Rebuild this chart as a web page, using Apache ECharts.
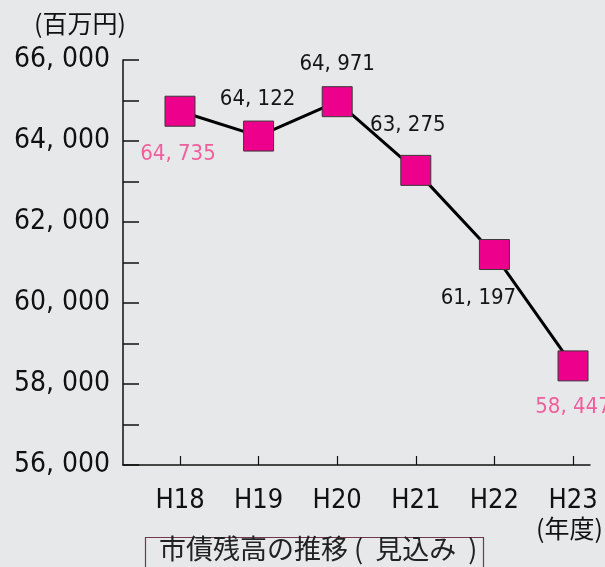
<!DOCTYPE html>
<html><head><meta charset="utf-8">
<script src="https://cdn.jsdelivr.net/npm/echarts@6/dist/echarts.min.js"></script>
<style>html,body{margin:0;padding:0;background:#e7e8ea}#c{width:605px;height:567px}</style>
</head><body><div id="c"></div>
<script>
const categories = ['H18', 'H19', 'H20', 'H21', 'H22', 'H23'];
const values = [64735, 64122, 64971, 63275, 61197, 58447];
const yMin = 56000, yMax = 66000, yStep = 1000, yLabelStep = 2000;
const unitLabel = '(百万円)';
const xUnitLabel = '(年度)';
const titleText = '市債残高の推移 (  見込み  )';

const NUM_FONT = '"DejaVu Sans Condensed","Liberation Sans Narrow",sans-serif';
const CJK_FONT = '"Noto Sans CJK JP","Noto Sans CJK SC",sans-serif';
const fmt = v => { const s = String(v); return s.slice(0, s.length - 3) + ', ' + s.slice(-3); };

// label styling per point (position, distance, offset, colour)
const labelCfg = [
  {position: 'bottom', distance: 17, offset: [-2, 0], color: '#ef5f9d'},
  {position: 'top', distance: 10, offset: [-1, 0], color: '#151515'},
  {position: 'top', distance: 11, offset: [0, 0], color: '#151515'},
  {position: 'top', distance: 19, offset: [-8, 0], color: '#151515'},
  {position: 'bottom', distance: 17, offset: [-16, 0], color: '#151515'},
  {position: 'bottom', distance: 15, offset: [0, 0], color: '#ef5f9d'}
];

const seriesData = values.map((v, i) => ({
  value: [i, v],
  label: {show: true, position: labelCfg[i].position, distance: labelCfg[i].distance,
    offset: labelCfg[i].offset, color: labelCfg[i].color,
    fontFamily: NUM_FONT, fontSize: 22, formatter: () => fmt(v)}
}));

const chart = echarts.init(document.getElementById('c'), null, {renderer: 'canvas'});
chart.setOption({
  backgroundColor: '#e7e8ea',
  animation: false,
  grid: {left: 123, right: 15, top: 60, bottom: 102, containLabel: false},
  xAxis: {
    type: 'value', min: -0.725, max: 5.216,
    splitLine: {show: false},
    axisLine: {show: true, onZero: false, lineStyle: {color: '#111', width: 1.5}},
    axisTick: {show: true, inside: true, length: 9, customValues: categories.map((c, i) => i), lineStyle: {color: '#111', width: 1.2}},
    axisLabel: {show: true, customValues: categories.map((c, i) => i), formatter: v => categories[Math.round(v)] || '',
      margin: 22, color: '#111', fontFamily: NUM_FONT, fontSize: 27}
  },
  yAxis: {
    type: 'value', min: yMin, max: yMax, interval: yStep,
    splitLine: {show: false},
    axisLine: {show: true, onZero: false, lineStyle: {color: '#111', width: 1.5}},
    axisTick: {show: true, inside: true, length: 16, lineStyle: {color: '#111', width: 1.5}},
    axisLabel: {show: true, margin: 13, color: '#111', fontFamily: NUM_FONT, fontSize: 28,
      formatter: v => (v - yMin) % yLabelStep === 0 ? fmt(v) : ''}
  },
  series: [{
    type: 'line', data: seriesData,
    symbol: 'rect', symbolSize: 30,
    itemStyle: {color: '#ec008c', borderColor: '#3a3a3a', borderWidth: 1},
    lineStyle: {color: '#000', width: 3},
    z: 3
  }],
  graphic: [
    {type: 'text', left: 34, top: 11, style: {text: unitLabel, font: '25px ' + CJK_FONT, fill: '#111'}},
    {type: 'text', right: 2, top: 516, style: {text: xUnitLabel, font: '25px ' + CJK_FONT, fill: '#111'}},
    {type: 'rect', shape: {x: 145.5, y: 537.5, width: 338, height: 40}, style: {fill: 'none', stroke: '#6e3a4a', lineWidth: 1.2}},
    {type: 'text', left: 159, top: 535, style: {text: titleText, font: '27px ' + CJK_FONT, fill: '#222'}}
  ]
});
</script></body></html>
